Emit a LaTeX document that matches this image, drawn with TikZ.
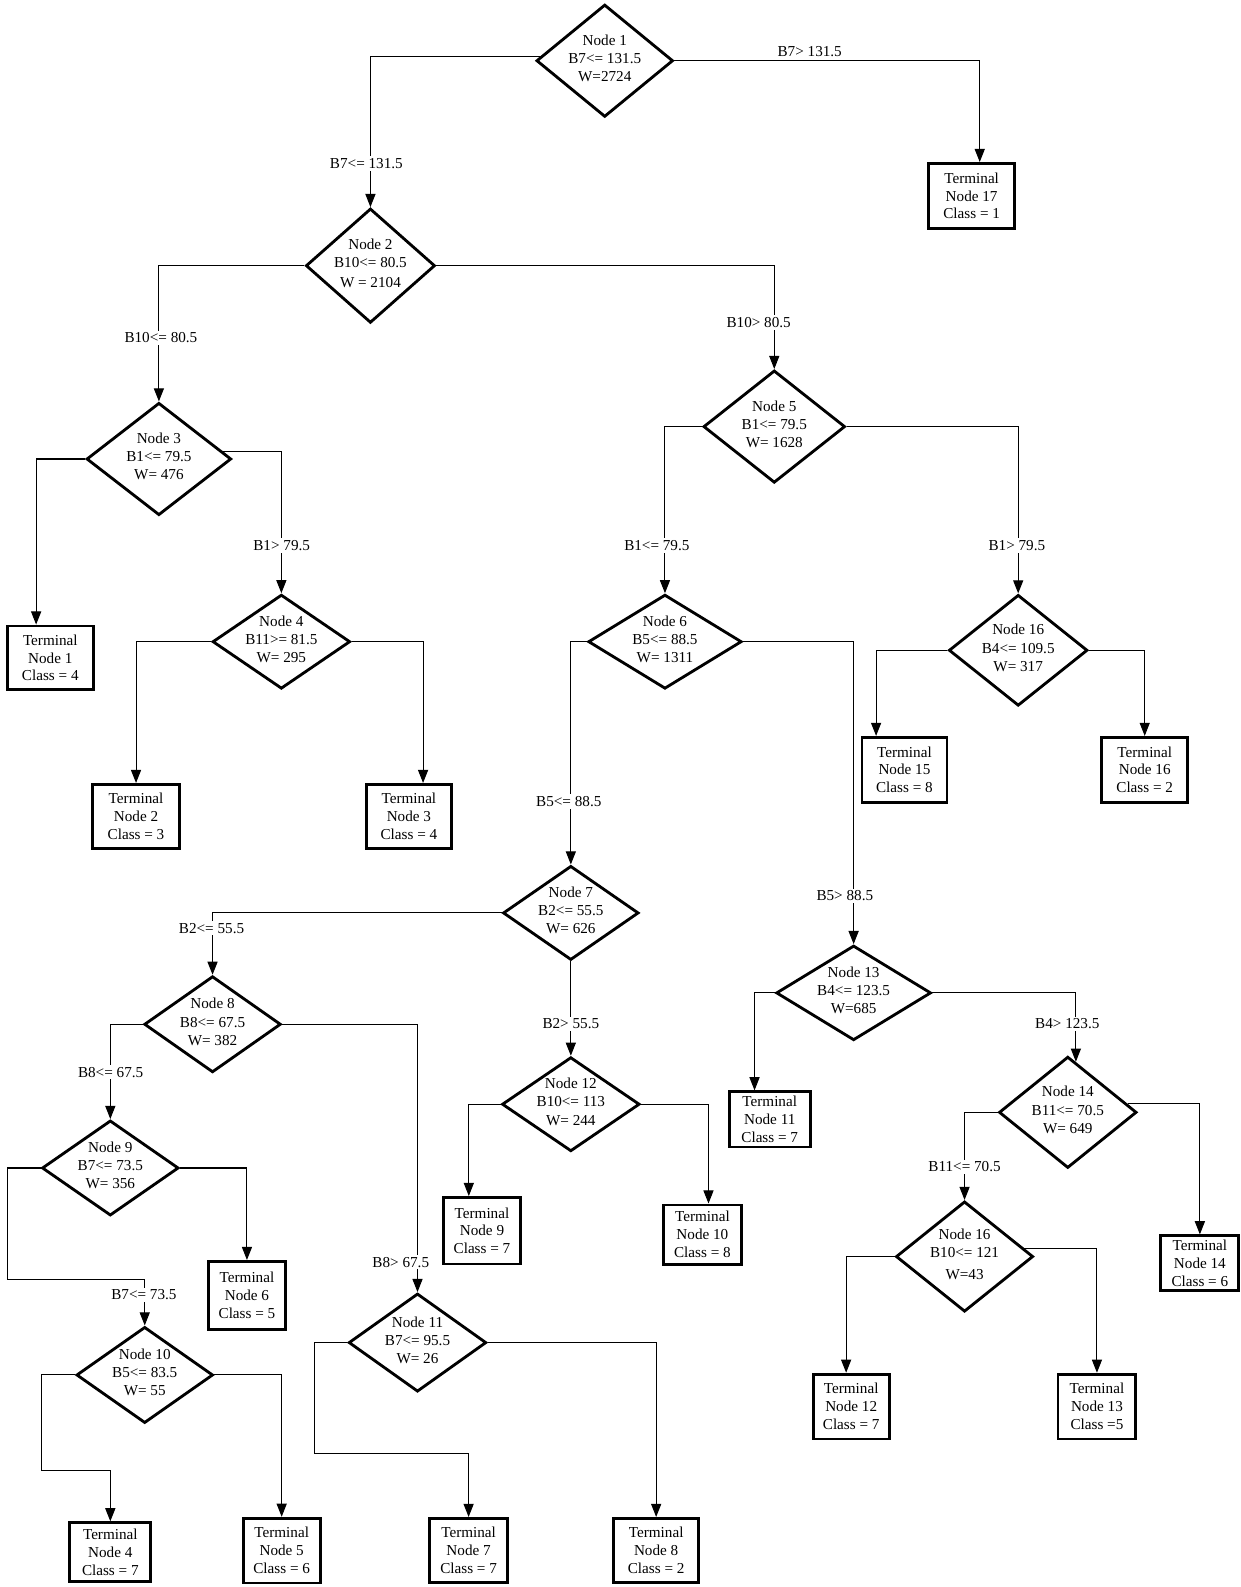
\documentclass[tikz,border=0pt]{standalone}
\usepackage{fontspec}
\setmainfont{Liberation Serif}
\usetikzlibrary{shapes.geometric,arrows.meta}
\newcommand\dtxt[1]{\makebox[0pt]{\raisebox{-1.3pt}[0pt][0pt]{\begin{tabular}{@{}c@{}}#1\end{tabular}}}}
\tikzset{
  every node/.style={font=\fontsize{7.5}{8.8}\selectfont},
  dia/.style={draw, shape=diamond, line width=1.4pt, inner sep=0pt, font=\fontsize{7.5}{9}\selectfont},
  term/.style={draw, rectangle, line width=1.4pt, inner sep=0pt, align=center},
  lab/.style={fill=white, inner sep=1pt},
  arr/.style={line width=0.5pt, -{Triangle[length=6.5pt,width=5pt]}}
}
\begin{document}
\begin{tikzpicture}[x=0.5pt,y=-0.5pt]
\useasboundingbox (0,0) rectangle (1226,1568);
% decision nodes
\node[dia, minimum width=67.5pt, minimum height=55.5pt] (n1) at (597.5,60) {\dtxt{Node 1\\B7<= 131.5\\W=2724}};
\node[dia, minimum width=63.8pt, minimum height=56.5pt] (n2) at (366,262.5) {\dtxt{Node 2\\B10<= 80.5\\[1pt]W = 2104}};
\node[dia, minimum width=71.5pt, minimum height=55.5pt] (n3) at (157,453.5) {\dtxt{Node 3\\B1<= 79.5\\W= 476}};
\node[dia, minimum width=68pt, minimum height=46.5pt] (n4) at (278,634) {\dtxt{Node 4\\B11>= 81.5\\W= 295}};
\node[dia, minimum width=70pt, minimum height=55.5pt] (n5) at (765,421.5) {\dtxt{Node 5\\B1<= 79.5\\W= 1628}};
\node[dia, minimum width=75.8pt, minimum height=46.5pt] (n6) at (657,634) {\dtxt{Node 6\\B5<= 88.5\\W= 1311}};
\node[dia, minimum width=68.5pt, minimum height=54.8pt] (n16a) at (1006,642.5) {\dtxt{Node 16\\B4<= 109.5\\W= 317}};
\node[dia, minimum width=67pt, minimum height=46.5pt] (n7) at (564,902) {\dtxt{Node 7\\B2<= 55.5\\W= 626}};
\node[dia, minimum width=67.5pt, minimum height=47.5pt] (n8) at (210,1012) {\dtxt{Node 8\\B8<= 67.5\\W= 382}};
\node[dia, minimum width=67.5pt, minimum height=47pt] (n9) at (109,1154) {\dtxt{Node 9\\B7<= 73.5\\W= 356}};
\node[dia, minimum width=67.5pt, minimum height=47.5pt] (n10) at (143,1358.5) {\dtxt{Node 10\\B5<= 83.5\\W= 55}};
\node[dia, minimum width=68pt, minimum height=48.5pt] (n11) at (412.5,1326.5) {\dtxt{Node 11\\B7<= 95.5\\W= 26}};
\node[dia, minimum width=68pt, minimum height=46.5pt] (n12) at (564,1091) {\dtxt{Node 12\\B10<= 113\\W= 244}};
\node[dia, minimum width=76.5pt, minimum height=46.8pt] (n13) at (843.4,981) {\dtxt{Node 13\\B4<= 123.5\\W=685}};
\node[dia, minimum width=68pt, minimum height=55pt] (n14) at (1055,1099) {\dtxt{Node 14\\B11<= 70.5\\W= 649}};
\node[dia, minimum width=67.8pt, minimum height=54.5pt] (n16b) at (953,1241.5) {\dtxt{Node 16\\B10<= 121\\[1.5pt]W=43}};
% terminal nodes
\node[term, minimum width=42.5pt, minimum height=32pt] (t17) at (960,193.5) {Terminal\\Node 17\\Class = 1};
\node[term, minimum width=42.5pt, minimum height=31.5pt] (t1) at (49.7,650) {Terminal\\Node 1\\Class = 4};
\node[term, minimum width=42.8pt, minimum height=31.5pt] (t2) at (134.4,806.5) {Terminal\\Node 2\\Class = 3};
\node[term, minimum width=42pt, minimum height=31.5pt] (t3) at (404,806.5) {Terminal\\Node 3\\Class = 4};
\node[term, minimum width=42pt, minimum height=32pt] (t15) at (893.6,760.5) {Terminal\\Node 15\\Class = 8};
\node[term, minimum width=42.5pt, minimum height=32pt] (t16) at (1131,760.5) {Terminal\\Node 16\\Class = 2};
\node[term, minimum width=40pt, minimum height=27.3pt] (t11) at (760.5,1106) {Terminal\\Node 11\\Class = 7};
\node[term, minimum width=38.2pt, minimum height=32.9pt] (t9) at (476.2,1216) {Terminal\\Node 9\\Class = 7};
\node[term, minimum width=38.7pt, minimum height=29.3pt] (t10) at (694,1219.8) {Terminal\\Node 10\\Class = 8};
\node[term, minimum width=38.5pt, minimum height=27pt] (t14) at (1185.5,1248) {Terminal\\Node 14\\Class = 6};
\node[term, minimum width=38pt, minimum height=33.7pt] (t6) at (244,1280) {Terminal\\Node 6\\Class = 5};
\node[term, minimum width=37.5pt, minimum height=32pt] (t12) at (841,1389.7) {Terminal\\Node 12\\Class = 7};
\node[term, minimum width=38.5pt, minimum height=32pt] (t13) at (1083.8,1389.7) {Terminal\\Node 13\\Class =5};
\node[term, minimum width=40pt, minimum height=29pt] (t4) at (109,1533.5) {Terminal\\Node 4\\Class = 7};
\node[term, minimum width=38pt, minimum height=32pt] (t5) at (278.3,1532) {Terminal\\Node 5\\Class = 6};
\node[term, minimum width=38.3pt, minimum height=31.8pt] (t7) at (463,1532) {Terminal\\Node 7\\Class = 7};
\node[term, minimum width=42pt, minimum height=31.8pt] (t8) at (648.3,1532) {Terminal\\Node 8\\Class = 2};
% routing points
\coordinate (c9) at (7.2,1264.6);
\coordinate (c10) at (41,1453);
\coordinate (c11) at (311,1436.5);
% connectors
\draw[arr] (n1.176) -| (n2.north);
\draw[arr] (n1.east) -| ([xshift=4pt]t17.north);
\draw[arr] (n2.west) -| (n3.north);
\draw[arr] (n2.east) -| (n5.north);
\draw[arr] (n3.west) -| ([xshift=-7pt]t1.north);
\draw[arr] (n3.7) -| (n4.north);
\draw[arr] (n4.west) -| (t2.north);
\draw[arr] (n4.east) -| ([xshift=7pt]t3.north);
\draw[arr] (n5.west) -| (n6.north);
\draw[arr] (n5.east) -| (n16a.north);
\draw[arr] (n6.west) -| (n7.north);
\draw[arr] (n6.east) -| (n13.north);
\draw[arr] (n16a.west) -| ([xshift=-14pt]t15.north);
\draw[arr] (n16a.east) -| (t16.north);
\draw[arr] (n7.west) -| (n8.north);
\draw[arr] (n7.south) -- (n12.north);
\draw[arr] (n8.west) -| (n9.north);
\draw[arr] (n8.east) -| (n11.north);
\draw[arr] (n9.west) -| (c9) -| (n10.north);
\draw[arr] (n9.east) -| (t6.north);
\draw[arr] (n10.west) -| (c10) -| (t4.north);
\draw[arr] (n10.east) -| (t5.north);
\draw[arr] (n11.west) -| (c11) -| (t7.north);
\draw[arr] (n11.east) -| (t8.north);
\draw[arr] (n12.west) -| ([xshift=-6.5pt]t9.north);
\draw[arr] (n12.east) -| ([xshift=3pt]t10.north);
\draw[arr] (n13.west) -| ([xshift=-7.5pt]t11.north);
\draw[arr] (n13.east) -| ([xshift=4pt,yshift=-3.2pt]n14.north);
\draw[arr] (n14.west) -| (n16b.north);
\draw[arr] (n14.8) -| (t14.north);
\draw[arr] (n16b.west) -| ([xshift=-2.5pt]t12.north);
\draw[arr] (n16b.8) -| (t13.north);
% branch labels
\node[lab] (l1) at (800,51) {B7> 131.5};
\node[lab] (l2) at (362,161.4) {B7<= 131.5};
\node[lab] (l3) at (159,334) {B10<= 80.5};
\node[lab] (l4) at (749.6,318.5) {B10> 80.5};
\node[lab] (l5) at (278.3,539) {B1> 79.5};
\node[lab] (l6) at (649,539) {B1<= 79.5};
\node[lab] (l7) at (1004.7,539) {B1> 79.5};
\node[lab] (l8) at (562,792) {B5<= 88.5};
\node[lab] (l9) at (834.7,885) {B5> 88.5};
\node[lab] (l10) at (209,917) {B2<= 55.5};
\node[lab] (l11) at (564,1011.7) {B2> 55.5};
\node[lab] (l12) at (109.3,1059.4) {B8<= 67.5};
\node[lab] (l13) at (396,1247) {B8> 67.5};
\node[lab] (l14) at (142.2,1279.4) {B7<= 73.5};
\node[lab] (l15) at (1054.5,1011.6) {B4> 123.5};
\node[lab] (l16) at (953,1153) {B11<= 70.5};
\end{tikzpicture}
\end{document}
